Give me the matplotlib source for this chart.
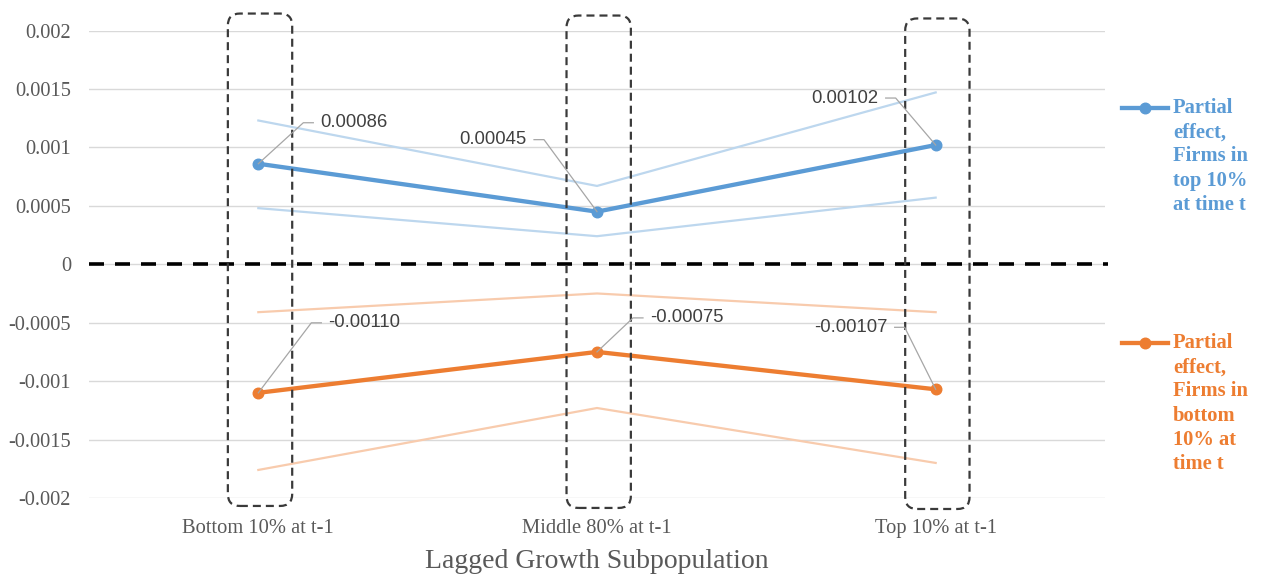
import matplotlib
matplotlib.use("Agg")
import matplotlib.pyplot as plt
from matplotlib import transforms
from matplotlib.lines import Line2D
from matplotlib.patches import FancyBboxPatch

# ---- data -------------------------------------------------------------
categories = ["Bottom 10% at t-1", "Middle 80% at t-1", "Top 10% at t-1"]

top_effect = [0.00086, 0.00045, 0.00102]
top_upper = [0.00123, 0.00067, 0.00147]
top_lower = [0.00048, 0.00024, 0.00057]

bottom_effect = [-0.00110, -0.00075, -0.00107]
bottom_upper = [-0.00041, -0.00025, -0.00041]
bottom_lower = [-0.00176, -0.00123, -0.00170]

series_names = ["Partial\neffect,\nFirms in\ntop 10%\nat time t",
                "Partial\neffect,\nFirms in\nbottom\n10% at\ntime t"]

y_ticks = [0.002, 0.0015, 0.001, 0.0005, 0, -0.0005, -0.001, -0.0015, -0.002]
y_tick_labels = ["0.002", "0.0015", "0.001", "0.0005", "0",
                 "-0.0005", "-0.001", "-0.0015", "-0.002"]

# ---- styling ----------------------------------------------------------
BLUE = "#5B9BD5"
BLUE_LIGHT = "#BDD7EE"
ORANGE = "#ED7D31"
ORANGE_LIGHT = "#F8CBAD"
GREY_TEXT = "#595959"
LABEL_TEXT = "#404040"
LEADER = "#A6A6A6"
GRID = "#D9D9D9"
SERIF = "Liberation Serif"
SANS = "Liberation Sans"

W, H, DPI = 1263, 576, 100
fig = plt.figure(figsize=(W / DPI, H / DPI), dpi=DPI)
ax = fig.add_axes([89 / W, 78 / H, (1105 - 89) / W, 467.5 / H])

x = list(range(len(categories)))

ax.set_xlim(-0.5, len(categories) - 0.5)
ax.set_ylim(-0.002, 0.002)
ax.set_yticks(y_ticks)
ax.set_yticklabels(y_tick_labels, fontfamily=SERIF, fontsize=14.7, color=GREY_TEXT)
ax.set_xticks(x)
ax.set_xticklabels(categories, fontfamily=SERIF, fontsize=14.8, color=GREY_TEXT)
ax.tick_params(axis="y", length=0, pad=13)
ax.tick_params(axis="x", length=0, pad=15)
ax.set_xlabel("Lagged Growth Subpopulation", fontfamily=SERIF, fontsize=20,
              color=GREY_TEXT, labelpad=8)
for s in ax.spines.values():
    s.set_visible(False)
ax.grid(axis="y", color=GRID, linewidth=1.0)
ax.set_axisbelow(True)

# confidence bands
ax.plot(x, top_upper, color=BLUE_LIGHT, lw=1.6, zorder=2)
ax.plot(x, top_lower, color=BLUE_LIGHT, lw=1.6, zorder=2)
ax.plot(x, bottom_upper, color=ORANGE_LIGHT, lw=1.6, zorder=2)
ax.plot(x, bottom_lower, color=ORANGE_LIGHT, lw=1.6, zorder=2)

# point estimates
ax.plot(x, top_effect, color=BLUE, lw=3.1, marker="o", ms=7.6, zorder=4)
ax.plot(x, bottom_effect, color=ORANGE, lw=3.1, marker="o", ms=7.6, zorder=4)

# zero reference line
ax.plot([-0.5, 2.51], [0, 0], color="black", lw=2.6,
        dashes=(15 * 0.72 / 2.6, 11 * 0.72 / 2.6), zorder=3, clip_on=False)

# dashed rounded frames around each category
px_per_x = (1105 - 89) / 3.0
px_per_y = 467.5 / 0.004
frame_tops = [0.002145, 0.002128, 0.002103]
frame_bottoms = [-0.002068, -0.002085, -0.002094]
frame_left, frame_right = -0.09, 0.10
for xi, yt, yb in zip(x, frame_tops, frame_bottoms):
    box = FancyBboxPatch((xi + frame_left, yb), frame_right - frame_left, yt - yb,
                         boxstyle="round,pad=0,rounding_size=%f" % (12 / px_per_x),
                         mutation_aspect=px_per_x / px_per_y,
                         fill=False, edgecolor="#3A3A3A", lw=1.6,
                         linestyle=(0, (8 * 0.72 / 1.6, 5 * 0.72 / 1.6)),
                         clip_on=False, zorder=5)
    ax.add_patch(box)

# value labels with leader lines (offsets in pixels from the marker)
label_layout = [
    # values, (corner dx, corner dy, side)
    (top_effect, [(45, 41, 1), (-53, 72, -1), (-40, 47, -1)]),
    (bottom_effect, [(53, 70, 1), (36, 34, 1), (-31, 62, -1)]),
]
for values, layout in label_layout:
    for xi, v, (cdx, cdy, side) in zip(x, values, layout):
        tr = transforms.IdentityTransform() + transforms.ScaledTranslation(xi, v, ax.transData)
        hx = cdx + side * 10
        ax.add_line(Line2D([0, cdx, hx], [0, cdy, cdy], transform=tr,
                           color=LEADER, lw=0.9, zorder=6, clip_on=False))
        ax.text(hx + side * 7, cdy, f"{v:.5f}", transform=tr,
                ha="left" if side > 0 else "right", va="center",
                fontfamily=SANS, fontsize=13.3, color=LABEL_TEXT, zorder=6)

# legend entries at the right
legend_rows = [(BLUE, series_names[0], 108), (ORANGE, series_names[1], 343)]
for color, name, ypix in legend_rows:
    yf = 1 - ypix / H
    fig.add_artist(Line2D([1122 / W, 1168 / W], [yf, yf], transform=fig.transFigure,
                          color=color, lw=3.1))
    fig.add_artist(Line2D([1145 / W], [yf], transform=fig.transFigure,
                          color=color, marker="o", ms=7.6))
    fig.text(1173 / W, 1 - (ypix - 10) / H, name, ha="left", va="top",
             fontfamily=SERIF, fontweight="bold", fontsize=14.8, color=color,
             linespacing=1.28)

fig.savefig("out.png", dpi=DPI, facecolor="white")
